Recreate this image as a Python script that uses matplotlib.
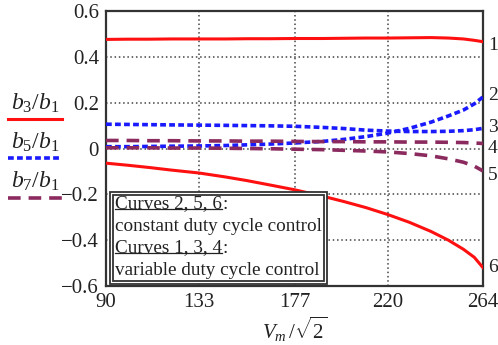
import numpy as np
import matplotlib
matplotlib.use('Agg')
import matplotlib.pyplot as plt
from matplotlib.lines import Line2D
from matplotlib.patches import Rectangle

plt.rcParams['font.family'] = ['Liberation Serif', 'DejaVu Serif']
plt.rcParams['mathtext.fontset'] = 'custom'
plt.rcParams['mathtext.rm'] = 'Liberation Serif'
plt.rcParams['mathtext.it'] = 'Liberation Serif:italic'

# Data
v = [90, 100, 110, 120, 133, 145, 155, 165, 177, 190, 200, 210, 220, 230, 240, 248, 255, 260, 264]
curve1 = [0.476, 0.477, 0.477, 0.478, 0.478, 0.478, 0.479, 0.479, 0.480, 0.480, 0.481, 0.482,
          0.482, 0.483, 0.484, 0.482, 0.478, 0.472, 0.466]
curve2 = [0.008, 0.008, 0.009, 0.010, 0.011, 0.013, 0.016, 0.019, 0.024, 0.031, 0.040, 0.052,
          0.067, 0.088, 0.115, 0.142, 0.168, 0.195, 0.225]
curve3 = [0.106, 0.105, 0.104, 0.103, 0.102, 0.101, 0.100, 0.099, 0.097, 0.092, 0.087, 0.080,
          0.076, 0.074, 0.074, 0.075, 0.078, 0.082, 0.088]
curve4 = [0.035, 0.035, 0.034, 0.034, 0.033, 0.033, 0.032, 0.032, 0.031, 0.030, 0.030, 0.029,
          0.029, 0.028, 0.028, 0.027, 0.026, 0.024, 0.022]
curve5 = [0.003, 0.003, 0.003, 0.002, 0.002, 0.001, 0.000, -0.001, -0.003, -0.005, -0.008, -0.011,
          -0.015, -0.022, -0.032, -0.045, -0.060, -0.077, -0.098]
curve6 = [-0.064, -0.073, -0.083, -0.094, -0.107, -0.124, -0.140, -0.158, -0.180, -0.208, -0.232,
          -0.258, -0.288, -0.322, -0.362, -0.400, -0.440, -0.475, -0.520]

x_ticks = [90, 133, 177, 220, 264]
y_ticks = [-0.6, -0.4, -0.2, 0, 0.2, 0.4, 0.6]
y_ticklabels = ['\u22120.6', '\u22120.4', '\u22120.2', '0', '0.2', '0.4', '0.6']

red = '#ff1010'
blue = '#1a1aff'
purple = '#8b2a5e'
dot_style = (0, (1.6, 0.9))
dash_style = (0, (3.5, 2.2))

fig = plt.figure(figsize=(4.98, 3.45), dpi=100)
ax = fig.add_axes([106 / 498, 59 / 345, 377 / 498, 275 / 345])

# grid lines (dotted) at inner ticks
for xv in x_ticks[1:-1]:
    ax.axvline(xv, color='#444444', linestyle=(0, (1, 1.8)), lw=1.1, zorder=1)
for yv in y_ticks[1:-1]:
    ax.axhline(yv, color='#444444', linestyle=(0, (1, 1.8)), lw=1.1, zorder=1)

# curves
ax.plot(v, curve1, color=red, lw=2.2, zorder=3)
ax.plot(v, curve6, color=red, lw=2.2, zorder=3)
ax.plot(v, curve2, color=blue, lw=2.6, linestyle=dot_style, zorder=3)
ax.plot(v, curve3, color=blue, lw=2.6, linestyle=dot_style, zorder=3)
ax.plot(v, curve4, color=purple, lw=2.6, linestyle=dash_style, zorder=3)
ax.plot(v, curve5, color=purple, lw=2.6, linestyle=dash_style, zorder=3)

ax.set_xlim(90, 264)
ax.set_ylim(-0.6, 0.6)
ax.set_xticks(x_ticks)
ax.set_yticks(y_ticks)
ax.set_yticklabels(y_ticklabels)
ax.tick_params(length=0, labelsize=15, colors='#222222', pad=5)
for s in ax.spines.values():
    s.set_color('#333333')
    s.set_linewidth(1.6)

ax.set_xlabel(r'$V_m\,/\sqrt{2}$', fontsize=15, labelpad=2, color='#222222')

# curve numbers on the right
num_y = [0.45, 0.233, 0.09, 0.0, -0.12, -0.52]
for i, yv in enumerate(num_y):
    ax.text(1.013, yv, str(i + 1), transform=ax.get_yaxis_transform(),
            fontsize=14, va='center', ha='left', color='#222222')

# text box with double border
ax.add_patch(Rectangle((0.010, 0.007), 0.577, 0.335, transform=ax.transAxes,
                       fill=True, facecolor='white', edgecolor='#333333', lw=1.3, zorder=5))
ax.add_patch(Rectangle((0.018, 0.018), 0.561, 0.313, transform=ax.transAxes,
                       fill=False, edgecolor='#333333', lw=1.3, zorder=6))
box_lines = ['Curves 2, 5, 6', 'constant duty cycle control',
             'Curves 1, 3, 4', 'variable duty cycle control']
underlined = [True, False, True, False]
fig.canvas.draw()
renderer = fig.canvas.get_renderer()
for i, (t, ul) in enumerate(zip(box_lines, underlined)):
    ty = 0.298 - i * 0.080
    txt = ax.text(0.024, ty, t, transform=ax.transAxes, fontsize=13.8,
                  va='center', ha='left', color='#222222', zorder=7)
    if ul:
        bb = txt.get_window_extent(renderer)
        inv = ax.transAxes.inverted()
        (x0, y0), (x1, y1) = inv.transform([[bb.x0, bb.y0], [bb.x1, bb.y1]])
        ax.add_line(Line2D([x0, x1], [y0 + 0.013, y0 + 0.013], transform=ax.transAxes,
                           color='#222222', lw=0.9, zorder=7))
        ax.text(x1, ty, ':', transform=ax.transAxes, fontsize=13.8,
                va='center', ha='left', color='#222222', zorder=7)

# left-hand legend: label above a line sample
leg_labels = [r'$b_3/b_1$', r'$b_5/b_1$', r'$b_7/b_1$']
leg_text_y = [103, 142, 181]
leg_line_y = [119, 158, 198]
leg_styles = [dict(color=red, lw=2.2, linestyle='-'),
              dict(color=blue, lw=2.6, linestyle=dot_style),
              dict(color=purple, lw=2.6, linestyle=dash_style)]
for lab, ty, ly, st in zip(leg_labels, leg_text_y, leg_line_y, leg_styles):
    fig.text(35 / 498, 1 - ty / 345, lab, fontsize=17, ha='center', va='center', color='#222222')
    fig.add_artist(Line2D([8 / 498, 62 / 498], [1 - ly / 345, 1 - ly / 345], **st))

fig.savefig('out.png', dpi=100)
